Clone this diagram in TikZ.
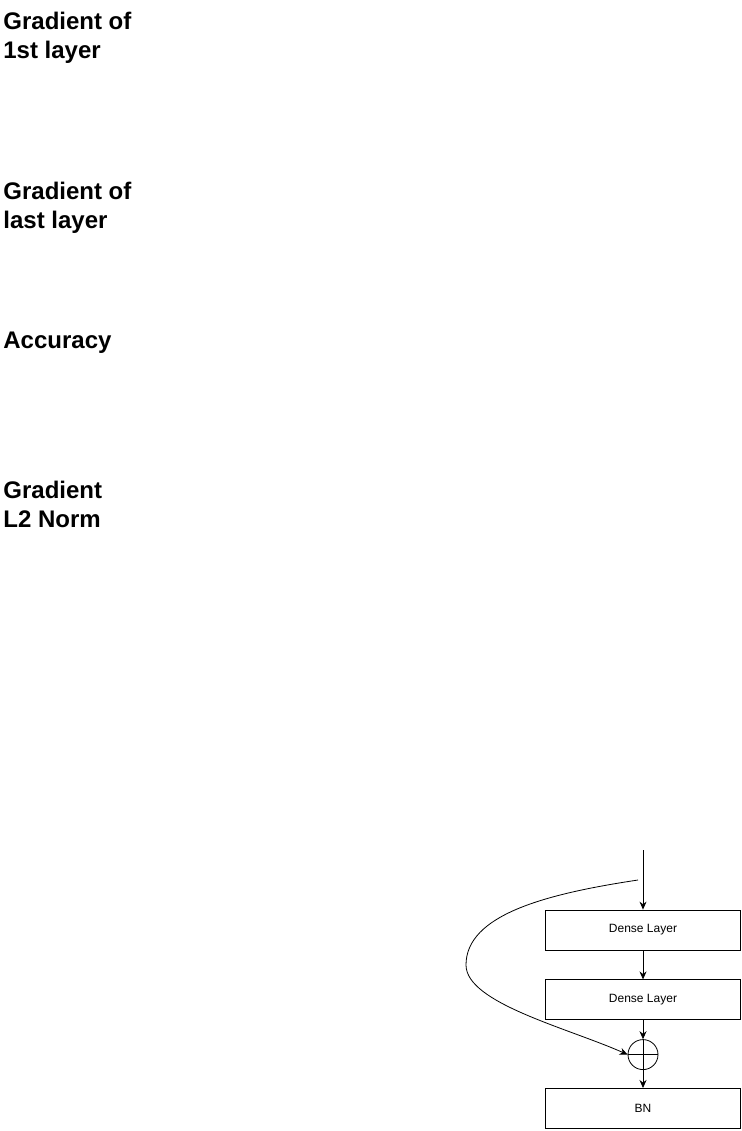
\documentclass[tikz,border=0pt]{standalone}
\usepackage{fontspec}
\setmainfont{Liberation Sans}
\usetikzlibrary{arrows.meta, positioning}

\begin{document}
\begin{tikzpicture}[x=1pt, y=-1pt, line width=0.8pt,
  plotlabel/.style={anchor=north west, align=left, inner sep=0pt, font=\bfseries\fontsize{24}{29}\selectfont},
  layerbox/.style={draw, minimum width=195pt, minimum height=40pt, inner sep=0pt, font=\fontsize{12}{14}\selectfont},
  sumnode/.style={draw, circle, minimum size=30pt, inner sep=0pt},
  flow/.style={-{Stealth[length=8pt, width=7pt]}}]
\useasboundingbox (0,0) rectangle (741,1131);

% labels on the left
\node[plotlabel] (grad1) at (3,12) {Gradient of\\1st layer};
\node[plotlabel] (gradlast) at (3,182) {Gradient of\\last layer};
\node[plotlabel] (acc) at (3,332) {Accuracy};
\node[plotlabel] (gradnorm) at (3,481) {Gradient\\L2 Norm};

% residual block
\coordinate (input) at (643,850);
\coordinate (skip) at (638,880);
\node[layerbox] (dense1) at (643,930) {Dense Layer};
\node[layerbox, below=29pt of dense1] (dense2) {Dense Layer};
\node[sumnode, below=19pt of dense2] (sum) {};
\node[layerbox, below=18pt of sum] (bn) {BN};

\draw (sum.north) -- (sum.south);
\draw (sum.west) -- (sum.east);

\draw[flow] (input) -- (dense1.north);
\draw[flow] (dense1.south) -- (dense2.north);
\draw[flow] (dense2.south) -- (sum.north);
\draw[flow] (sum.south) -- (bn.north);
\draw[flow] (skip) .. controls (545,894) and (466,915) .. (466,965)
  .. controls (466,1003) and (568,1028) .. (sum.west);
\end{tikzpicture}
\end{document}
